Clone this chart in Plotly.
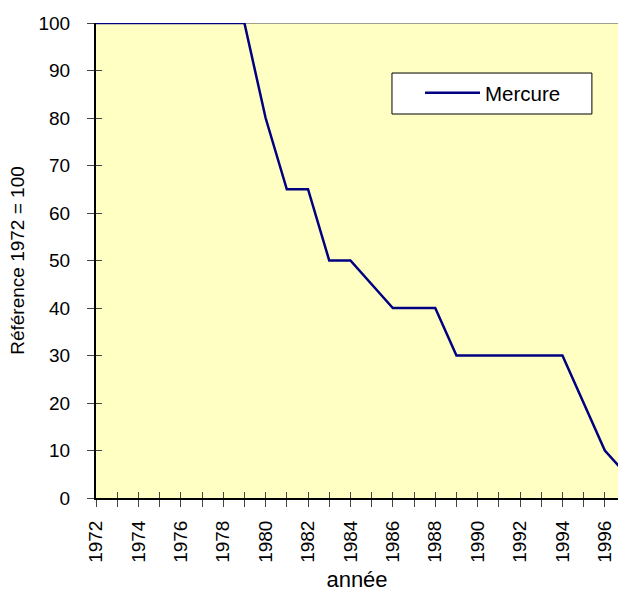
import plotly.graph_objects as go

years = list(range(1972, 1998))
mercure = [100, 100, 100, 100, 100, 100, 100, 100, 80, 65, 65, 50, 50, 45,
           40, 40, 40, 30, 30, 30, 30, 30, 30, 20, 10, 5]
x_range = [1972, 1996.62]
y_range = [0, 100]
font_family = "Liberation Sans, Arial, sans-serif"

fig = go.Figure()
fig.add_trace(go.Scatter(
    x=years, y=mercure, mode="lines", name="Mercure",
    line=dict(color="#000080", width=2.5), cliponaxis=False,
))
# invisible trace to anchor overlay axes (inner half of crossing ticks)
fig.add_trace(go.Scatter(x=x_range, y=y_range, xaxis="x2", yaxis="y2",
                         mode="markers", marker=dict(opacity=0),
                         showlegend=False, hoverinfo="skip"))

# grey top border of the plot area
fig.add_shape(type="line", xref="paper", x0=0, x1=1, yref="y", y0=100, y1=100,
              line=dict(color="#808080", width=1.5), layer="below")
# legend frame
fig.add_shape(type="rect", xref="paper", yref="paper",
              x0=0.567, x1=0.950, y0=0.8084, y1=0.8947,
              fillcolor="white", line=dict(color="black", width=1), layer="above")

tick_col = "#444444"
fig.update_layout(
    width=618, height=592,
    margin=dict(l=96, r=0, t=23, b=94),
    paper_bgcolor="white", plot_bgcolor="#FFFFC4",
    font=dict(family=font_family, size=19, color="black"),
    showlegend=True,
    legend=dict(x=0.6207, y=0.8526, xanchor="left", yanchor="middle",
                bgcolor="rgba(0,0,0,0)", borderwidth=0,
                font=dict(size=20.5), itemwidth=55),
    xaxis=dict(range=x_range, tickmode="linear", tick0=1972, dtick=2,
               ticks="outside", ticklen=7, tickcolor=tick_col, tickwidth=1,
               minor=dict(dtick=1, tick0=1972, ticks="outside", ticklen=7,
                          tickcolor=tick_col, tickwidth=1, showgrid=False),
               tickangle=-90, showgrid=False, zeroline=False,
               showline=True, linecolor="black", linewidth=2,
               ticklabelstandoff=6,
               title=dict(text="année", font=dict(size=22), standoff=10),
               tickfont=dict(size=19)),
    yaxis=dict(range=y_range, tickmode="linear", tick0=0, dtick=10,
               ticks="outside", ticklen=7, tickcolor=tick_col, tickwidth=1,
               showgrid=False, zeroline=False,
               showline=True, linecolor="black", linewidth=2,
               ticklabelstandoff=13,
               title=dict(text="Référence 1972 = 100", font=dict(size=19), standoff=9),
               tickfont=dict(size=19)),
    xaxis2=dict(range=x_range, overlaying="x", side="bottom", anchor="y",
                tickmode="linear", tick0=1972, dtick=1, ticks="inside",
                ticklen=6, tickcolor=tick_col, tickwidth=1,
                showticklabels=False, showgrid=False, zeroline=False),
    yaxis2=dict(range=y_range, overlaying="y", side="left", anchor="x",
                tickmode="linear", tick0=0, dtick=10, ticks="inside",
                ticklen=6, tickcolor=tick_col, tickwidth=1,
                showticklabels=False, showgrid=False, zeroline=False),
)

fig.write_html("out.html",
               config={"displayModeBar": False},
               post_script="document.body.style.margin='0';"
                           "document.body.style.overflow='hidden';")
